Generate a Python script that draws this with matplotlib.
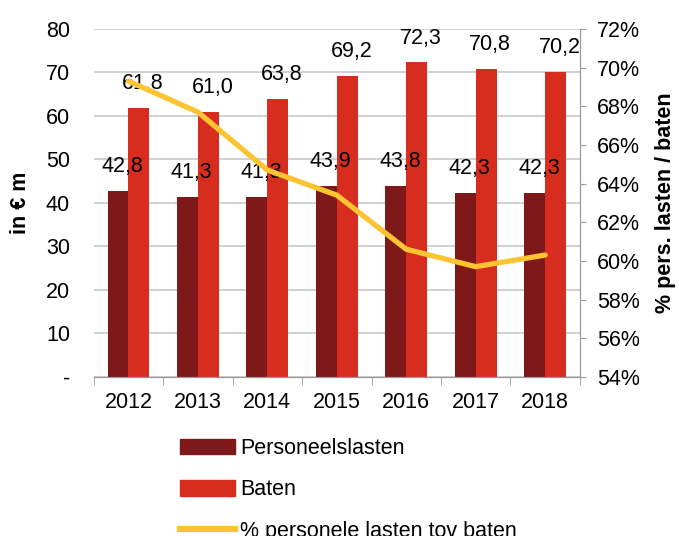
import matplotlib.pyplot as plt
import numpy as np
from matplotlib.patches import Patch
from matplotlib.lines import Line2D

plt.rcParams['font.family'] = ['Liberation Sans', 'DejaVu Sans']

# data
jaren = ['2012', '2013', '2014', '2015', '2016', '2017', '2018']
personeelslasten = [42.8, 41.3, 41.3, 43.9, 43.8, 42.3, 42.3]
baten = [61.8, 61.0, 63.8, 69.2, 72.3, 70.8, 70.2]
pct_pers = [69.3, 67.7, 64.7, 63.4, 60.6, 59.7, 60.3]

c_pers = '#7f1919'
c_baten = '#d62d1e'
c_lijn = '#fcc433'
fs = 15.5

fig = plt.figure(figsize=(6.79, 5.36), dpi=100)
ax = fig.add_axes([0.138, 0.297, 0.716, 0.649])
ax2 = ax.twinx()

x = np.arange(len(jaren))
w = 0.3
ax.bar(x - w / 2, personeelslasten, w, color=c_pers, zorder=2)
ax.bar(x + w / 2, baten, w, color=c_baten, zorder=2)

for i in range(len(jaren)):
    ax.annotate(f'{personeelslasten[i]:.1f}'.replace('.', ','), (x[i] - w / 2, personeelslasten[i]),
                xytext=(3, 10), textcoords='offset points', ha='center', va='bottom', fontsize=fs, zorder=5)
    ax.annotate(f'{baten[i]:.1f}'.replace('.', ','), (x[i] + w / 2, baten[i]),
                xytext=(3, 10), textcoords='offset points', ha='center', va='bottom', fontsize=fs, zorder=5)

ax2.plot(x, pct_pers, color=c_lijn, lw=3.8, solid_capstyle='round', zorder=4)

ax.set_xlim(-0.5, 6.5)
ax.set_ylim(0, 80)
ax.set_yticks(range(0, 81, 10))
ax.set_yticklabels(['-'] + [str(v) for v in range(10, 81, 10)])
ax.yaxis.grid(True, color='#c8c8c8', lw=1.2, zorder=0)
ax.set_axisbelow(True)
ax.set_xticks(x)
ax.set_xticklabels(jaren)
ax.set_xticks(np.arange(-0.5, 7, 1), minor=True)
ax.tick_params(axis='x', which='major', length=0, labelsize=fs, pad=11)
ax.tick_params(axis='x', which='minor', length=6, color='#999999')
ax.tick_params(axis='y', length=0, labelsize=fs, pad=17)
ax.set_ylabel('in € m', fontsize=fs, fontweight='bold')
ax.yaxis.set_label_coords(-0.130, 0.5)

ax2.set_ylim(54, 72)
ax2.set_yticks(range(54, 73, 2))
ax2.set_yticklabels([f'{v}%' for v in range(54, 73, 2)])
ax2.tick_params(axis='y', length=4.5, color='#999999', labelsize=fs, pad=8)
ax2.set_ylabel('% pers. lasten / baten', fontsize=fs, fontweight='bold')
ax2.yaxis.set_label_coords(1.155, 0.5)

for a in (ax, ax2):
    for s in ['top', 'left']:
        a.spines[s].set_visible(False)
    a.spines['right'].set_color('#999999')
    a.spines['bottom'].set_color('#999999')

handles = [Patch(color=c_pers), Patch(color=c_baten), Line2D([], [], color=c_lijn, lw=4.5)]
fig.legend(handles, ['Personeelslasten', 'Baten', '% personele lasten tov baten'],
           loc='upper left', bbox_to_anchor=(0.265, 0.183), frameon=False, fontsize=fs,
           handlelength=2.55, handleheight=0.75, handletextpad=0.25, labelspacing=0.95,
           borderpad=0, borderaxespad=0)

fig.savefig('out.png', dpi=100)
